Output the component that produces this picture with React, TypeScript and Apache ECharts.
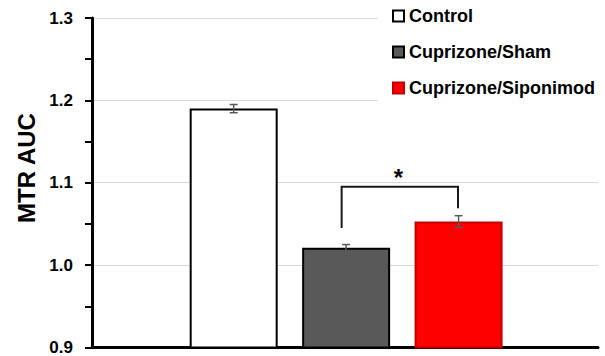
import React, { useEffect, useRef } from "react";
import * as echarts from "echarts";

const categories = ["Control", "Cuprizone/Sham", "Cuprizone/Siponimod"];
const xPositions = [1, 2, 3];
const means = [1.19, 1.021, 1.053];
const errors = [0.005, 0.004, 0.007];
const yTicks = [0.9, 1.0, 1.1, 1.2, 1.3];
// significance bracket: [x left, x right, y top, y left end, y right end]
const bracket = [1.96, 2.995, 1.095, 1.045, 1.069];
const starPos = [2.465, 1.106];
const starLabel = "*";

const FONT = "Liberation Sans, Arial, sans-serif";
const fills = ["#ffffff", "#595959", "#ff0000"];
const borders = ["#000000", "#000000", "#c00000"];

export default function App() {
  const ref = useRef<HTMLDivElement>(null);
  useEffect(() => {
    document.body.style.margin = "0";
    const chart = echarts.init(ref.current!, null, { renderer: "svg" });
    const barSeries = categories.map((name, i) => ({
      type: "bar",
      name,
      data: [[xPositions[i], means[i]]],
      barWidth: 88,
      barGap: "-100%",
      itemStyle: { color: fills[i], borderColor: borders[i], borderWidth: 2 },
      emphasis: { disabled: true },
      z: 3,
    }));
    const option: any = {
      animation: false,
      textStyle: { fontFamily: FONT },
      grid: { left: 92, right: 7, top: 18, bottom: 8 },
      legend: {
        data: categories,
        orient: "vertical",
        left: 378,
        top: 0,
        itemWidth: 11,
        itemHeight: 11,
        itemGap: 18,
        icon: "rect",
        backgroundColor: "#ffffff",
        padding: [7, 4, 8, 14],
        selectedMode: false,
        textStyle: { fontSize: 18, fontWeight: "bold", color: "#000", fontFamily: FONT },
      },
      xAxis: {
        type: "value",
        min: -0.26,
        max: 4.24,
        axisLine: { show: true, onZero: false, lineStyle: { color: "#000", width: 3 } },
        axisTick: { show: false },
        axisLabel: { show: false },
        splitLine: { show: false },
      },
      yAxis: {
        type: "value",
        min: yTicks[0],
        max: yTicks[yTicks.length - 1],
        interval: 0.1,
        axisLine: { show: true, onZero: false, lineStyle: { color: "#000", width: 3 } },
        axisTick: { show: true, inside: false, length: 7, lineStyle: { color: "#000", width: 2 } },
        minorTick: { show: true, splitNumber: 2, length: 7, lineStyle: { color: "#000", width: 2 } },
        axisLabel: {
          margin: 19,
          fontSize: 17,
          fontWeight: "bold",
          color: "#000",
          fontFamily: FONT,
          formatter: (v: number) => v.toFixed(1),
        },
        splitLine: { show: true, lineStyle: { color: "#d9d9d9", width: 1 } },
      },
      graphic: [
        {
          type: "text",
          x: 26,
          y: 168,
          rotation: Math.PI / 2,
          style: {
            text: "MTR AUC",
            fontSize: 24,
            fontWeight: "bold",
            fontFamily: FONT,
            fill: "#000",
            align: "center",
            verticalAlign: "middle",
          },
        },
      ],
      series: [
        ...barSeries,
        {
          type: "custom",
          name: "errors",
          data: categories.map((_, i) => [xPositions[i], means[i], errors[i]]),
          z: 5,
          silent: true,
          renderItem: (params: any, api: any) => {
            const x = api.value(0);
            const m = api.value(1);
            const e = api.value(2);
            const top = api.coord([x, m + e]);
            const bot = api.coord([x, m - e]);
            const cap = 4;
            const st = { stroke: "#595959", lineWidth: 1.5 };
            return {
              type: "group",
              children: [
                { type: "line", shape: { x1: top[0], y1: top[1], x2: bot[0], y2: bot[1] }, style: st },
                { type: "line", shape: { x1: top[0] - cap, y1: top[1], x2: top[0] + cap, y2: top[1] }, style: st },
                { type: "line", shape: { x1: bot[0] - cap, y1: bot[1], x2: bot[0] + cap, y2: bot[1] }, style: st },
              ],
            };
          },
        },
        {
          type: "custom",
          name: "significance",
          data: [[...bracket, ...starPos]],
          z: 6,
          silent: true,
          renderItem: (params: any, api: any) => {
            const x1 = api.value(0);
            const x2 = api.value(1);
            const yt = api.value(2);
            const yl = api.value(3);
            const yr = api.value(4);
            const sx = api.value(5);
            const sy = api.value(6);
            const p1 = api.coord([x1, yl]);
            const p2 = api.coord([x1, yt]);
            const p3 = api.coord([x2, yt]);
            const p4 = api.coord([x2, yr]);
            const s = api.coord([sx, sy]);
            return {
              type: "group",
              children: [
                {
                  type: "polyline",
                  shape: { points: [p1, p2, p3, p4] },
                  style: { stroke: "#1a1a1a", lineWidth: 2, fill: "none" },
                },
                {
                  type: "text",
                  x: s[0],
                  y: s[1],
                  style: {
                    text: starLabel,
                    fontSize: 24,
                    fontWeight: "bold",
                    fontFamily: FONT,
                    fill: "#000",
                    align: "center",
                    verticalAlign: "middle",
                  },
                },
              ],
            };
          },
        },
      ],
    };
    chart.setOption(option);
    return () => chart.dispose();
  }, []);
  return (
    <div
      ref={ref}
      style={{ position: "absolute", left: 0, top: 0, width: 605, height: 356 }}
    />
  );
}
